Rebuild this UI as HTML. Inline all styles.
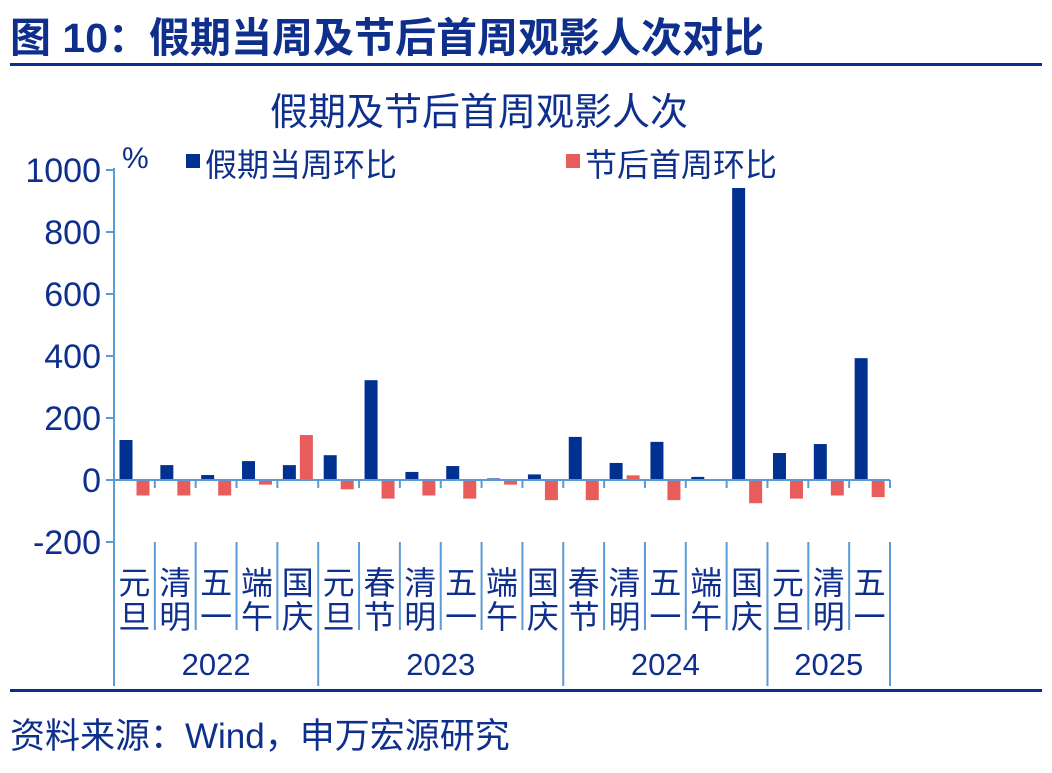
<!DOCTYPE html>
<html><head><meta charset="utf-8"><style>
body{margin:0;width:1052px;height:768px;background:#fff;overflow:hidden;font-family:"Liberation Sans","Noto Sans CJK SC",sans-serif}
</style></head><body>
<svg width="1052" height="768" xmlns="http://www.w3.org/2000/svg" font-family="Liberation Sans, Noto Sans CJK SC, sans-serif">
<text x="10" y="52" font-size="41" font-weight="bold" fill="#0f2f8c">图 10：假期当周及节后首周观影人次对比</text>
<rect x="10" y="63" width="1032" height="3" fill="#0f2f8c"/>
<text x="479" y="125" font-size="38" fill="#0f2f8c" text-anchor="middle">假期及节后首周观影人次</text>
<text x="122" y="168" font-size="30" fill="#0f2f8c">%</text>
<rect x="186" y="154" width="14" height="14" fill="#003090"/>
<text x="205" y="176" font-size="32" fill="#0f2f8c">假期当周环比</text>
<rect x="566" y="154" width="14" height="14" fill="#e85c5c"/>
<text x="585" y="176" font-size="32" fill="#0f2f8c">节后首周环比</text>
<g id="chart"></g>
<rect x="10" y="689" width="1032" height="3" fill="#0f2f8c"/>
<text x="10" y="748" font-size="35" fill="#0f2f8c">资料来源：Wind，申万宏源研究</text>
</svg>
<script>
const categories=["元旦","清明","五一","端午","国庆","元旦","春节","清明","五一","端午","国庆","春节","清明","五一","端午","国庆","元旦","清明","五一"];
const years=["2022","2023","2024","2025"];
const yearCounts=[5,6,5,3];
const holidayWeek=[129,48,16,61,48,80,322,26,45,5,18,139,55,123,10,942,87,116,393];
const afterWeek=[-50,-50,-50,-15,145,-30,-60,-50,-60,-15,-65,-65,15,-65,0,-75,-60,-50,-55];
const yTicks=[-200,0,200,400,600,800,1000];
const NS="http://www.w3.org/2000/svg";
const g=document.getElementById('chart');
const x0=114,x1=890,yZero=480,pxPer=0.31;
const cw=(x1-x0)/categories.length;
const y=v=>yZero-v*pxPer;
const X=i=>x0+i*cw;
function mk(t,a){const e=document.createElementNS(NS,t);for(const k in a)e.setAttribute(k,a[k]);g.appendChild(e);return e;}
const axisC="#5b9bd5",txtC="#0f2f8c";
yTicks.forEach(v=>{
 const t=mk('line',{x1:x0-8,x2:x0,y1:y(v),y2:y(v),stroke:axisC,'stroke-width':2});
 
 
 const l=mk('text',{x:x0-13,y:y(v)+12,'font-size':34,fill:txtC,'text-anchor':'end'});
 l.textContent=v;
 
 
});
const ax=mk('line',{x1:x0,x2:x0,y1:y(1000)-2,y2:686,stroke:axisC,'stroke-width':2});


categories.forEach((c,i)=>{
 const b=holidayWeek[i];
 const r1=mk('rect',{x:X(i)+5.5,width:13,y:Math.min(y(b),yZero),height:Math.abs(y(b)-yZero),fill:'#003090'});
 
 
 const a=afterWeek[i];
 const r2=mk('rect',{x:X(i)+22.5,width:13,y:Math.min(y(a),yZero),height:Math.abs(y(a)-yZero),fill:'#e85c5c'});
 
 
 const lb=mk('text',{x:X(i)+cw/2,'font-size':32,fill:txtC,'text-anchor':'middle'});
 
 
 [c[0],c[1]].forEach((ch,k)=>{const ts=document.createElementNS(NS,'tspan');ts.setAttribute('x',X(i)+cw/2);ts.setAttribute('y',594+k*34);ts.textContent=ch;lb.appendChild(ts);});
});
const zl=mk('line',{x1:x0-8,x2:x1,y1:yZero,y2:yZero,stroke:axisC,'stroke-width':2});


let idx=0;const bounds=new Set([0]);yearCounts.forEach(n=>{idx+=n;bounds.add(idx);});
for(let i=1;i<=categories.length;i++){
 const tk=mk('line',{x1:X(i),x2:X(i),y1:yZero,y2:yZero+8,stroke:axisC,'stroke-width':2});
 
 
 const sep=mk('line',{x1:X(i),x2:X(i),y1:542,y2:bounds.has(i)?686:630,stroke:axisC,'stroke-width':2});
 
 
}
let s=0;years.forEach((yr,k)=>{
 const cx=X(s+yearCounts[k]/2);s+=yearCounts[k];
 const t=mk('text',{x:cx,y:675,'font-size':31,fill:txtC,'text-anchor':'middle'});
 t.textContent=yr;
 
 
});
</script>
</body></html>
